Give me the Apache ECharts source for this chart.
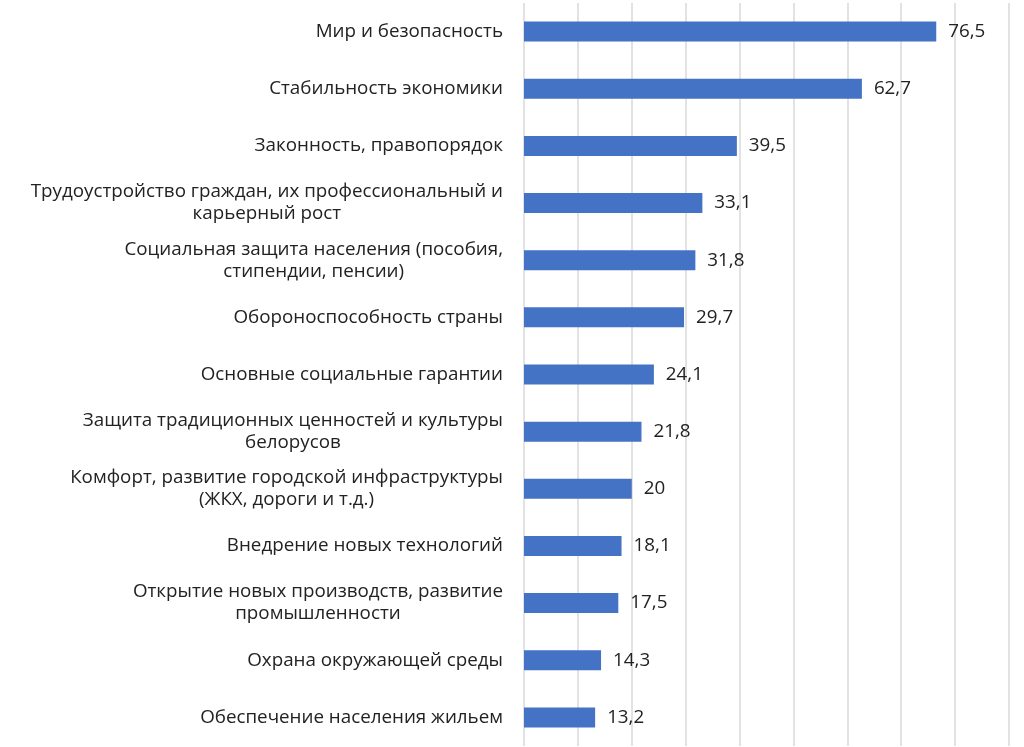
<!DOCTYPE html>
<html>
<head>
<meta charset="utf-8">
<script src="https://cdn.jsdelivr.net/npm/echarts@6/dist/echarts.min.js"></script>
<style>
html,body{margin:0;padding:0;background:#fff;}
#chart{width:1024px;height:747px;}
</style>
</head>
<body>
<div id="chart"></div>
<script>
const categories = [
  "Мир и безопасность",
  "Стабильность экономики",
  "Законность, правопорядок",
  "Трудоустройство граждан, их профессиональный и\nкарьерный рост",
  "Социальная защита населения (пособия,\nстипендии, пенсии)",
  "Обороноспособность страны",
  "Основные социальные гарантии",
  "Защита традиционных ценностей и культуры\nбелорусов",
  "Комфорт, развитие городской инфраструктуры\n(ЖКХ, дороги и т.д.)",
  "Внедрение новых технологий",
  "Открытие новых производств, развитие\nпромышленности",
  "Охрана окружающей среды",
  "Обеспечение населения жильем"
];
const values = [76.5, 62.7, 39.5, 33.1, 31.8, 29.7, 24.1, 21.8, 20, 18.1, 17.5, 14.3, 13.2];
const axisMin = 0, axisMax = 90, axisInterval = 10;

const FONT = 'Open Sans';
const FS = 18.8;
const chart = echarts.init(document.getElementById('chart'), null, {renderer: 'canvas'});
chart.setOption({
  animation: false,
  grid: {left: 524, right: 15, top: 3, bottom: 1, containLabel: false},
  xAxis: {
    type: 'value', min: axisMin, max: axisMax, interval: axisInterval,
    axisLabel: {show: false}, axisLine: {show: false}, axisTick: {show: false},
    splitLine: {show: true, lineStyle: {color: '#d9d9d9', width: 1.5}}
  },
  yAxis: {
    type: 'category', data: categories, inverse: true,
    axisLine: {show: false}, axisTick: {show: false},
    axisLabel: {
      margin: 21, color: '#222', fontFamily: FONT, fontSize: FS, lineHeight: 22,
      align: 'right',
      formatter: function (v) {
        return v.split('\n').map(function (l) { return '{c|' + l + '}'; }).join('\n');
      },
      rich: {c: {align: 'center', color: '#222', fontFamily: FONT, fontSize: FS, lineHeight: 22}}
    }
  },
  series: [{
    type: 'bar', data: values, barWidth: 20,
    itemStyle: {color: '#4472c4'},
    label: {
      show: true, position: 'right', distance: 12, color: '#222',
      fontFamily: FONT, fontSize: FS,
      formatter: function (p) { return String(p.value).replace('.', ','); }
    }
  }]
});
</script>
</body>
</html>
